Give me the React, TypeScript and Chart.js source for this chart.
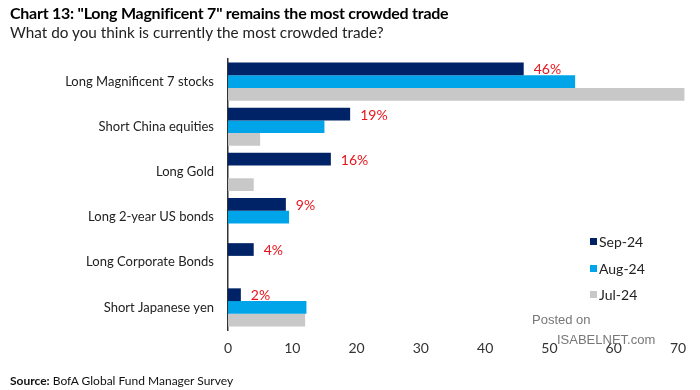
import React, { useEffect, useRef } from 'react';
import { Chart, registerables } from 'chart.js';

Chart.register(...registerables);

const categories = [
  'Long Magnificent 7 stocks',
  'Short China equities',
  'Long Gold',
  'Long 2-year US bonds',
  'Long Corporate Bonds',
  'Short Japanese yen',
];
const seriesLabels = ['Sep-24', 'Aug-24', 'Jul-24'];
const sep24 = [46, 19, 16, 9, 4, 2];
const aug24 = [54, 15, null, 9.5, null, 12.2];
const jul24 = [71, 5, 4, null, null, 12];
const xTicks = [0, 10, 20, 30, 40, 50, 60, 70];
const seriesColors = ['#002266', '#00a5e9', '#c8c8c8'];

const FONT = "Lato, 'Noto Sans', sans-serif";

export default function App() {
  const ref = useRef<HTMLCanvasElement | null>(null);

  useEffect(() => {
    document.body.style.margin = '0';
    const canvas = ref.current;
    if (!canvas) return;

    const valueLabels = {
      id: 'valueLabels',
      afterDatasetsDraw(chart: any) {
        const ctx = chart.ctx;
        const meta = chart.getDatasetMeta(0);
        ctx.save();
        ctx.fillStyle = '#e8141c';
        ctx.font = `14px ${FONT}`;
        ctx.textAlign = 'left';
        ctx.textBaseline = 'middle';
        meta.data.forEach((bar: any, i: number) => {
          const v = sep24[i];
          if (v == null) return;
          ctx.fillText(`${v}%`, bar.x + 10, bar.y + 1);
        });
        ctx.restore();
      },
    };

    const chart = new Chart(canvas, {
      type: 'bar',
      data: {
        labels: categories,
        datasets: [
          { label: seriesLabels[0], data: sep24, backgroundColor: seriesColors[0] },
          { label: seriesLabels[1], data: aug24 as any, backgroundColor: seriesColors[1] },
          { label: seriesLabels[2], data: jul24 as any, backgroundColor: seriesColors[2] },
        ],
      },
      options: {
        indexAxis: 'y',
        animation: false,
        responsive: false,
        maintainAspectRatio: false,
        layout: { padding: { left: 0, right: 22, top: 59, bottom: 30 } },
        datasets: { bar: { categoryPercentage: 0.845, barPercentage: 1, clip: false as any } },
        plugins: {
          legend: { display: false },
          tooltip: { enabled: false },
        },
        scales: {
          x: {
            min: 0,
            max: 70,
            afterBuildTicks: (s: any) => {
              s.ticks = xTicks.map((v) => ({ value: v }));
            },
            afterFit: (s: any) => {
              s.height = 30;
            },
            grid: { display: false, drawTicks: false },
            border: { display: false },
            ticks: {
              color: '#333',
              font: { family: FONT, size: 14 },
              padding: 10,
              maxRotation: 0,
            },
          },
          y: {
            afterFit: (s: any) => {
              s.width = 228;
            },
            grid: { display: false, drawTicks: false },
            border: { display: true, color: '#333', width: 1.5 },
            ticks: {
              color: '#222',
              font: { family: FONT, size: 13 },
              padding: 14,
            },
          },
        },
      },
      plugins: [valueLabels],
    });

    return () => chart.destroy();
  }, []);

  return (
    <div style={{ position: 'fixed', left: 0, top: 0, width: 700, height: 390, background: '#fff', fontFamily: FONT }}>
      <canvas ref={ref} width={700} height={390} style={{ position: 'absolute', left: 0, top: 0 }} />
      <div style={{ position: 'absolute', left: 10, top: 3, fontSize: 16, fontWeight: 'bold', color: '#000', whiteSpace: 'nowrap', letterSpacing: -0.25 }}>
        Chart 13: "Long Magnificent 7" remains the most crowded trade
      </div>
      <div style={{ position: 'absolute', left: 10, top: 23, fontSize: 15.3, color: '#222', whiteSpace: 'nowrap' }}>
        What do you think is currently the most crowded trade?
      </div>
      <div style={{ position: 'absolute', left: 590, top: 228 }}>
        {seriesLabels.map((l, i) => (
          <div key={l} style={{ display: 'flex', alignItems: 'center', height: 26.7, fontSize: 14, color: '#222' }}>
            <span style={{ width: 7, height: 7, background: seriesColors[i], marginRight: 2, display: 'inline-block' }} />
            {l}
          </div>
        ))}
      </div>
      <div style={{ position: 'absolute', left: 532, top: 312, fontSize: 13, color: '#777', fontFamily: "'Liberation Sans', Arial, sans-serif" }}>
        Posted on
      </div>
      <div style={{ position: 'absolute', left: 557, top: 332, fontSize: 13, color: '#777', fontFamily: "'Liberation Sans', Arial, sans-serif" }}>
        ISABELNET.com
      </div>
      <div style={{ position: 'absolute', left: 10, top: 373, fontSize: 12, color: '#111', whiteSpace: 'nowrap' }}>
        <b>Source:</b> BofA Global Fund Manager Survey
      </div>
    </div>
  );
}
